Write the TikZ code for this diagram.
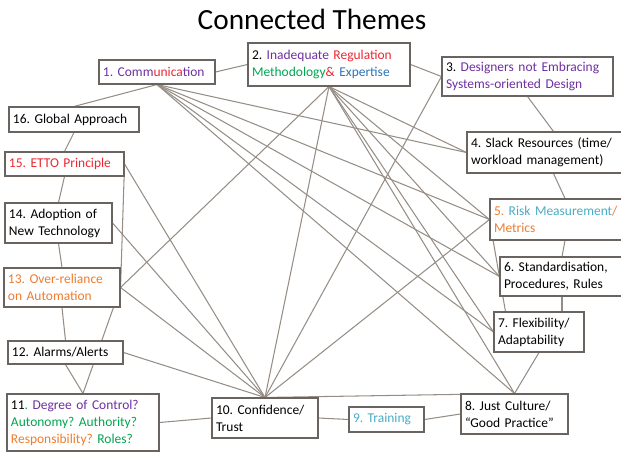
\documentclass[tikz,border=0pt]{standalone}
\usepackage{fontspec}
\setmainfont{Carlito}
\usetikzlibrary{calc,backgrounds}
\definecolor{linegray}{RGB}{150,142,134}
\definecolor{boxgray}{RGB}{105,100,95}
\definecolor{thpurple}{RGB}{112,48,160}
\definecolor{thred}{RGB}{235,40,50}
\definecolor{thgreen}{RGB}{0,166,80}
\definecolor{thblue}{RGB}{46,117,182}
\definecolor{thlblue}{RGB}{75,172,198}
\definecolor{thorange}{RGB}{237,125,49}
\frenchspacing
\begin{document}
\begin{tikzpicture}[x=0.03cm,y=-0.03cm,
    theme/.style={draw=boxgray,fill=white,line width=0.9pt,inner xsep=0.12cm,inner ysep=0pt,
      align=left,font=\fontsize{11.5}{14.5}\selectfont},
    link/.style={draw=linegray,line width=0.9pt}]
  \useasboundingbox (0,0) rectangle (621,452);
  \clip (0,0) rectangle (621,452);
  \node[anchor=base,font=\fontsize{25}{30}\selectfont] (title) at (312,30) {Connected Themes};
  \node[theme,text width=3.24cm,minimum height=0.72cm] (n1) at (157,72)
    {\textcolor{thpurple}{1. Comm}\textcolor{thred}{unica}\textcolor{thpurple}{tion}};
  \node[theme,text width=4.62cm,minimum height=1.29cm] (n2) at (329,64.5)
    {2. \textcolor{thpurple}{Inadequate} \textcolor{thred}{Regulation}\\
     \textcolor{thgreen}{Methodology}\textcolor{thred}{\&} \textcolor{thblue}{Expertise}};
  \node[theme,text width=4.89cm,minimum height=1.17cm] (n3) at (527.5,76.5)
    {3. \textcolor{thpurple}{Designers not Embracing}\\ \textcolor{thpurple}{Systems-oriented Design}};
  \node[theme,text width=4.95cm,minimum height=1.23cm] (n4) at (553.5,152.5)
    {4. Slack Resources (time/\\ workload management)};
  \node[theme,text width=4.26cm,minimum height=1.23cm] (n5) at (565,219.5)
    {\textcolor{thorange}{5.} \textcolor{thlblue}{Risk Measurement}\textcolor{thorange}{/}\\ \textcolor{thorange}{Metrics}};
  \node[theme,text width=3.48cm,minimum height=1.17cm] (n6) at (562,276.5)
    {6. Standardisation,\\ Procedures, Rules};
  \node[theme,text width=2.46cm,minimum height=1.2cm] (n7) at (539,332)
    {7. Flexibility/\\ Adaptability};
  \node[theme,text width=2.97cm,minimum height=1.2cm] (n8) at (514.5,414)
    {8. Just Culture/\\ “Good Practice”};
  \node[theme,text width=2.01cm,minimum height=0.75cm] (n9) at (386.5,419.5)
    {\textcolor{thlblue}{9. Training}};
  \node[theme,text width=2.94cm,minimum height=1.2cm] (n10) at (265,418)
    {10. Confidence/\\ Trust};
  \node[theme,text width=4.32cm,minimum height=1.71cm] (n11) at (83,422.5)
    {11\textcolor{thgreen}{.} \textcolor{thpurple}{Degree of Control?}\\
     \textcolor{thgreen}{Autonomy? Authority?}\\
     \textcolor{thorange}{Responsibility?} \textcolor{thgreen}{Roles?}};
  \node[theme,text width=3.21cm,minimum height=0.69cm] (n12) at (65.5,352.5)
    {12. Alarms/Alerts};
  \node[theme,text width=3.24cm,minimum height=1.17cm] (n13) at (62,287.5)
    {\textcolor{thorange}{13. Over-reliance}\\ \textcolor{thorange}{on Automation}};
  \node[theme,text width=2.97cm,minimum height=1.2cm] (n14) at (58.5,223)
    {14. Adoption of\\ New Technology};
  \node[theme,text width=3.33cm,minimum height=0.72cm] (n15) at (64.5,164)
    {\textcolor{thred}{15. ETTO Principle}};
  \node[theme,text width=3.66cm,minimum height=0.75cm] (n16) at (74,119.5)
    {16. Global Approach};
  \begin{scope}[on background layer]
    % ring
    \draw[link] (n1.east) -- (n2.west);
    \draw[link] (n2.east) -- (n3.west);
    \draw[link] (n3.south) -- (n4.north);
    \draw[link] (n4.south) -- (n5.north);
    \draw[link] (n5.south) -- (n6.north);
    \draw[link] (n6.south) -- (n6.south |- n7.north);
    \draw[link] (n7.south) -- (n8.north);
    \draw[link] (n8.west) -- (n9.east);
    \draw[link] (n9.west) -- (n10.east);
    \draw[link] (n10.west) -- (n11.east);
    \draw[link] (n11.north) -- (n12.south);
    \draw[link] (n12.north) -- (n13.south);
    \draw[link] (n13.north) -- (n14.south);
    \draw[link] (n14.north) -- (n15.south);
    \draw[link] (n15.north) -- (n16.south);
    \draw[link] (n16.north) -- (n1.south);
    % across
    \foreach \t in {n4.west,n5.west,n6.west,n7.west,n8.north}{
      \draw[link] (n1.south) -- (\t);
      \draw[link] (n2.south) -- (\t);
    }
    \draw[link] (n2.south) -- (n13.east);
    \draw[link] (n5.west) -- ($(n7.north west)+(12,0)$);
    \draw[link] (n15.east) -- (n13.east);
    \draw[link] (n13.east) -- (n11.north);
    \foreach \s in {n2.south,n3.west,n5.west,n8.north,n12.east,n13.east,n14.east,n15.east}{
      \draw[link] (\s) -- (n10.north);
    }
  \end{scope}
\end{tikzpicture}
\end{document}
